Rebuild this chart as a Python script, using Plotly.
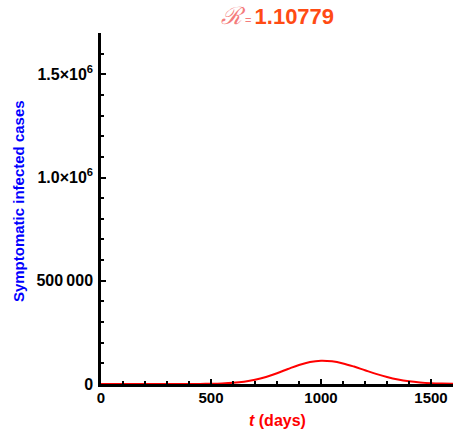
import plotly.graph_objects as go

# Symptomatic infected cases over time (days)
days = [0, 50, 100, 150, 200, 250, 300, 350, 400, 450, 500, 550, 600, 650, 700,
        750, 800, 850, 900, 950, 1000, 1050, 1100, 1150, 1200, 1250, 1300, 1350,
        1400, 1450, 1500, 1550, 1600]
cases = [0, 0, 0, 0, 0, 0, 5, 30, 120, 400, 1050, 2500, 5600, 11200, 20500,
         34200, 52200, 72700, 92300, 106900, 113000, 110000, 99700, 84400, 66700,
         49200, 33900, 21700, 13000, 7300, 3800, 1850, 840]

y_tickvals = [0, 500000, 1000000, 1500000]
y_ticktext = ["0", "500\u2009000", "1.0\u00d710<sup>6</sup>", "1.5\u00d710<sup>6</sup>"]
x_tickvals = [0, 500, 1000, 1500]
x_ticktext = ["0", "500", "1000", "1500"]

fig = go.Figure()
fig.add_trace(go.Scatter(
    x=days, y=cases, mode="lines", line=dict(color="#ff0000", width=2, shape="spline"),
    showlegend=False, hoverinfo="skip"))

font_family = "Liberation Sans, Arial, sans-serif"
xtickfont = dict(family=font_family, size=15, color="black", weight="bold")
ytickfont = dict(family=font_family, size=16, color="black", weight="bold")

fig.update_layout(
    width=458, height=431,
    margin=dict(l=101, r=5, t=33, b=47),
    paper_bgcolor="white", plot_bgcolor="white",
    xaxis=dict(
        range=[0, 1600], showgrid=False, zeroline=False,
        showline=True, linecolor="black", linewidth=2.5,
        ticks="inside", ticklen=5, tickwidth=2, tickcolor="black",
        tickvals=x_tickvals, ticktext=x_ticktext, tickfont=xtickfont,
        minor=dict(dtick=100, ticks="inside", ticklen=3, tickwidth=1.5, tickcolor="black"),
        ticklabelstandoff=-2,
    ),
    yaxis=dict(
        range=[0, 1700000], showgrid=False, zeroline=False,
        showline=True, linecolor="black", linewidth=2.5,
        ticks="inside", ticklen=5, tickwidth=2, tickcolor="black",
        tickvals=y_tickvals, ticktext=y_ticktext, tickfont=ytickfont,
        minor=dict(dtick=100000, ticks="inside", ticklen=3, tickwidth=1.5, tickcolor="black"),
        ticklabelstandoff=2,
    ),
)

fig.add_annotation(
    text="Symptomatic infected cases", textangle=-90,
    xref="paper", yref="paper", x=-0.234, y=0.52, xanchor="center", yanchor="middle",
    showarrow=False,
    font=dict(family=font_family, size=15, color="#0000ff", weight="bold"))

fig.add_annotation(
    text="<i>t</i> (days)",
    xref="paper", yref="paper", x=0.5, y=-0.103, xanchor="center", yanchor="middle",
    showarrow=False,
    font=dict(family=font_family, size=16, color="#ff0000", weight="bold"))

fig.add_annotation(
    text="<span style='font-family:DejaVu Serif;font-weight:normal;color:#f47c7c;font-size:24px'><i>\u211b</i></span>"
         "<span style='font-weight:normal;color:#f47c7c;font-size:11px'> = </span>"
         "<span style='color:#ff4b14'>1.10779</span>",
    xref="paper", yref="paper", x=0.5, y=1.0, xanchor="center", yanchor="bottom", yshift=1,
    showarrow=False,
    font=dict(family=font_family, size=22, color="#ff4b14", weight="bold"))

fig.write_html("out.html")
